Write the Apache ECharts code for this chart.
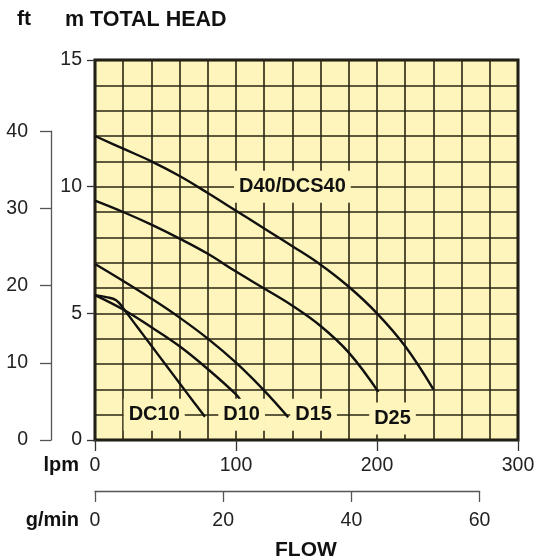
<!DOCTYPE html>
<html>
<head>
<meta charset="utf-8">
<script src="https://cdn.jsdelivr.net/npm/echarts@6/dist/echarts.min.js"></script>
<style>
html,body{margin:0;padding:0;background:#fff;}
#c{width:541px;height:558px;}
</style>
</head>
<body>
<div id="c"></div>
<script>
// ---- data (flow in lpm, head in m) ----
const D40 = [[0,12.0],[20,11.5],[40,11.0],[60,10.42],[80,9.75],[100,9.05],[120,8.35],[140,7.65],[160,6.92],[180,6.05],[200,5.0],[220,3.7],[240,2.0]];
const D25 = [[0,9.45],[20,9.0],[40,8.5],[60,7.95],[80,7.35],[100,6.65],[120,5.98],[140,5.3],[160,4.5],[180,3.45],[201,1.9]];
const D15 = [[0,6.95],[20,6.28],[40,5.58],[60,4.83],[80,4.0],[100,3.05],[120,1.95],[137,0.9]];
const D10 = [[0,5.72],[20,5.15],[40,4.45],[60,3.7],[80,2.8],[100,1.8],[104,1.5]];
const DC10 = [[0,5.72],[8,5.64],[15,5.52],[20,5.2],[30,4.46],[40,3.72],[50,2.98],[60,2.24],[70,1.5],[78,0.92]];
const curveLabels = [['DC10',42,1],['D10',104,1],['D15',155,1],['D25',211,0.85],['D40/DCS40',140,10]];
const lpmRange = [0,300];
const headRangeM = [0,15];
const ftRange = [0,40];
const gpmRange = [0,60];
const M_PER_FT = 0.3048;
const LPM_PER_GAL = 4.54609;

// ---- layout ----
const PL = 95, PT = 60, PW = 423, PH = 380;
const FONT = "'Liberation Sans', Arial, sans-serif";
const BG = '#FDF5BB';
const ftTop = PT + PH * (1 - ftRange[1]*M_PER_FT / headRangeM[1]);
const gpmWidth = PW * (gpmRange[1]*LPM_PER_GAL / lpmRange[1]);

const chart = echarts.init(document.getElementById('c'), null, {renderer:'canvas'});
const lineStyle = {color:'#111', width:2.4};
function curve(name, data){
  return {name, type:'line', xAxisIndex:0, yAxisIndex:0, data, smooth:0.4,
    symbol:'none', lineStyle, z:3, silent:true};
}
const tickLabel = {color:'#222', fontSize:19.5, fontFamily:FONT};

chart.setOption({
  animation:false,
  backgroundColor:'#fff',
  grid:[
    {left:PL, top:PT, width:PW, height:PH, show:true, backgroundColor:BG, borderColor:'#111', borderWidth:3, z:0},
    {left:51, top:ftTop, width:1, height:PT+PH-ftTop},
    {left:PL, top:490, width:gpmWidth, height:1}
  ],
  xAxis:[
    {gridIndex:0, type:'value', min:lpmRange[0], max:lpmRange[1], interval:20,
     axisLine:{show:false}, axisTick:{show:false}, axisLabel:{show:false},
     splitLine:{show:true, lineStyle:{color:'#2a2515', width:1.6}}},
    {gridIndex:0, type:'value', position:'bottom', min:lpmRange[0], max:lpmRange[1], interval:100,
     axisLine:{show:false}, axisTick:{show:true, inside:false, length:11, lineStyle:{color:'#333', width:1.3}},
     axisLabel:Object.assign({margin:16}, tickLabel), splitLine:{show:false}},
    {gridIndex:1, type:'value', show:false},
    {gridIndex:2, type:'value', position:'bottom', min:gpmRange[0], max:gpmRange[1], interval:20,
     axisLine:{show:true, lineStyle:{color:'#555', width:1.3}},
     axisTick:{show:true, inside:false, length:11, lineStyle:{color:'#555', width:1.3}},
     axisLabel:Object.assign({margin:20}, tickLabel), splitLine:{show:false}}
  ],
  yAxis:[
    {gridIndex:0, type:'value', min:headRangeM[0], max:headRangeM[1], interval:1,
     axisLine:{show:false}, axisTick:{show:false}, axisLabel:{show:false},
     splitLine:{show:true, lineStyle:{color:'#2a2515', width:1.6}}},
    {gridIndex:0, type:'value', position:'left', min:headRangeM[0], max:headRangeM[1], interval:5,
     axisLine:{show:false}, axisTick:{show:true, inside:false, length:8, lineStyle:{color:'#333', width:1.3}},
     axisLabel:Object.assign({margin:13}, tickLabel), splitLine:{show:false}},
    {gridIndex:1, type:'value', position:'left', min:ftRange[0], max:ftRange[1], interval:10,
     axisLine:{show:true, lineStyle:{color:'#555', width:1.3}},
     axisTick:{show:true, inside:false, length:11, lineStyle:{color:'#555', width:1.3}},
     axisLabel:Object.assign({margin:23}, tickLabel), splitLine:{show:false}},
    {gridIndex:2, type:'value', show:false}
  ],
  series:[
    curve('D40/DCS40', D40),
    curve('D25', D25),
    curve('D15', D15),
    curve('D10', D10),
    curve('DC10', DC10),
    {type:'scatter', xAxisIndex:0, yAxisIndex:0, symbolSize:0, silent:true, z:4,
     itemStyle:{color:'#111', opacity:1},
     data:curveLabels.map(d => ({name:d[0], value:[d[1], d[2]]})),
     label:{show:true, position:'inside', formatter:'{b}', color:'#111', opacity:1,
       textBorderWidth:0, fontSize:20, fontWeight:'bold', fontFamily:FONT,
       backgroundColor:BG, padding:[6,5]}}
  ],
  graphic:[
    {type:'text', left:17, top:9, style:{text:'ft', font:"bold 21px "+FONT, fill:'#111'}},
    {type:'text', left:65, top:9, style:{text:'m TOTAL HEAD', font:"bold 21.5px "+FONT, fill:'#111'}},
    {type:'text', right:541-79, top:455, style:{text:'lpm', font:"bold 20px "+FONT, fill:'#111'}},
    {type:'text', right:541-79, top:510, style:{text:'g/min', font:"bold 20px "+FONT, fill:'#111'}},
    {type:'text', left:275, top:540, style:{text:'FLOW', font:"bold 21px "+FONT, fill:'#111'}}
  ]
});
</script>
</body>
</html>
